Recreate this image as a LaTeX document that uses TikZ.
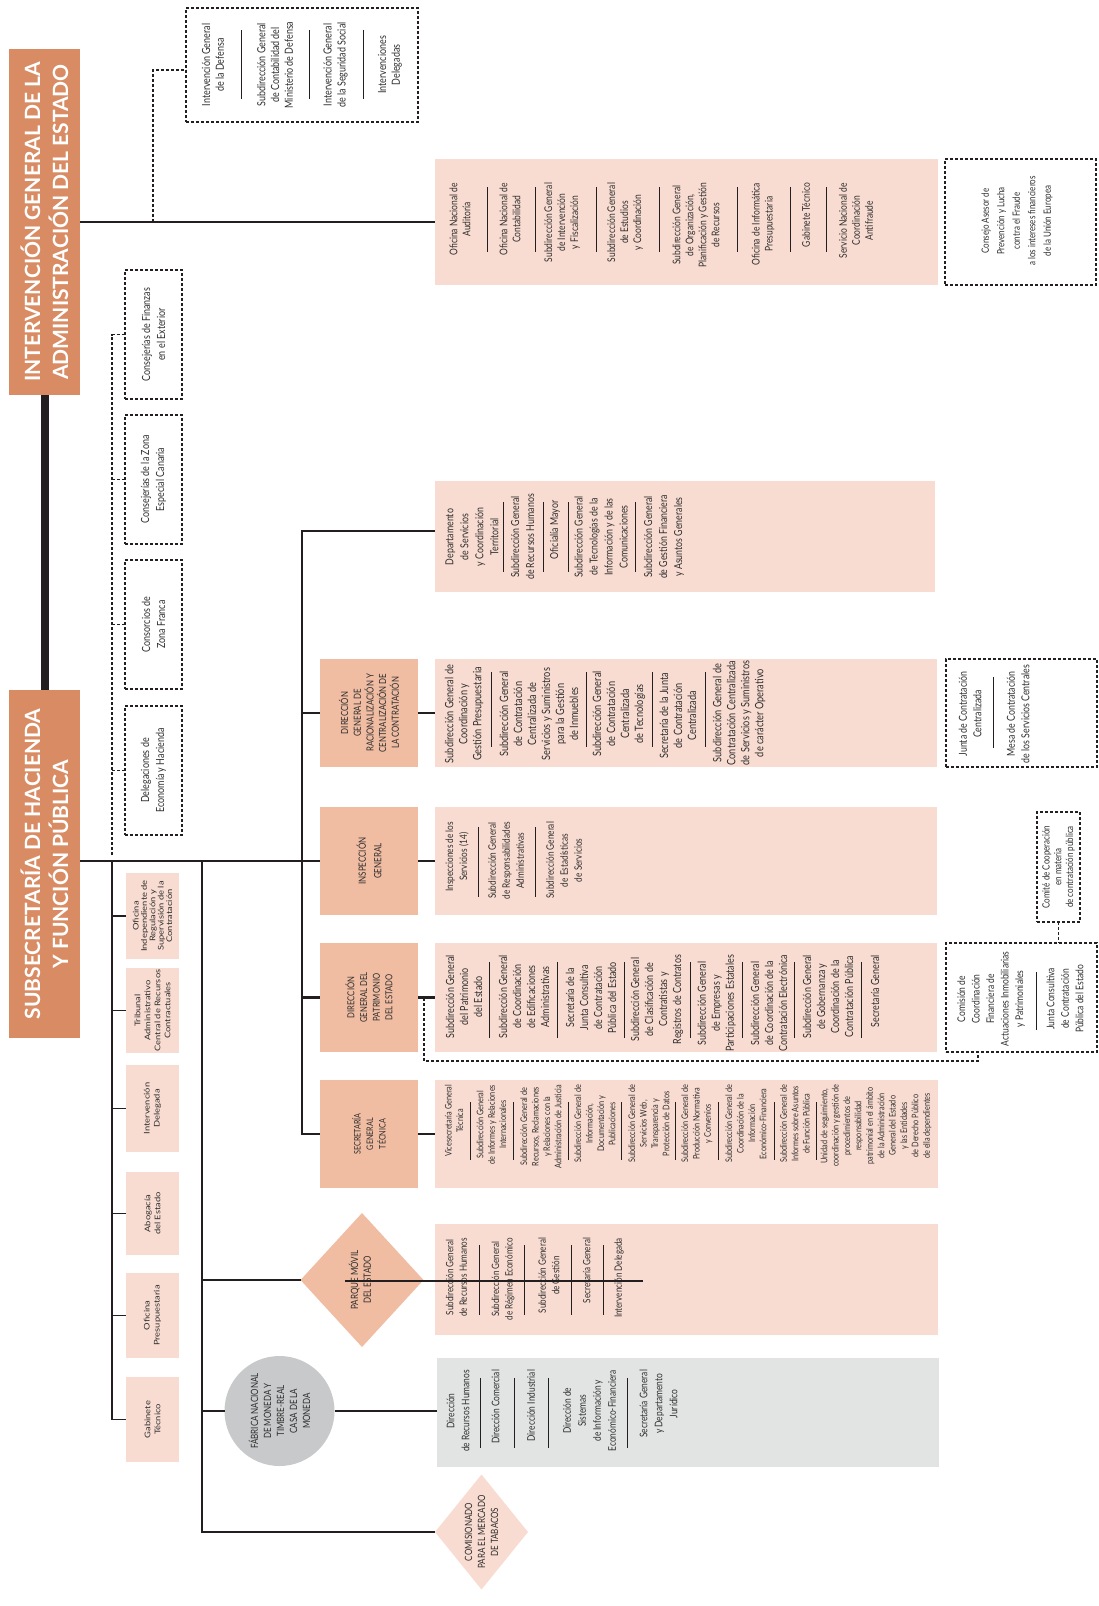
\documentclass[tikz,border=0pt]{standalone}
\usepackage{fontspec}
\setmainfont{Lato}
\newfontfamily\fA[FakeStretch=0.8]{Lato}
\newfontfamily\fW[FakeStretch=1.2]{Lato}
\usetikzlibrary{shapes.geometric}
\definecolor{cT}{HTML}{D98C63}
\definecolor{cL}{HTML}{F0BCA2}
\definecolor{cP}{HTML}{F9DCD1}
\definecolor{cG}{HTML}{C7C9CA}
\definecolor{cGl}{HTML}{E2E4E4}
\definecolor{ink}{HTML}{231F20}
\definecolor{txt}{HTML}{2E2E2E}
\begin{document}
\begin{tikzpicture}[x=1pt,y=-1pt,
  rb/.style={inner sep=0pt, outer sep=0pt, anchor=north west},
  db/.style={rb, draw=ink, line width=1.4pt, dash pattern=on 3pt off 2pt},
  thk/.style={draw=ink, line width=2.8pt},
  mid/.style={draw=ink, line width=1.8pt},
  thn/.style={draw=ink, line width=1.5pt},
  dsh/.style={draw=ink, line width=1.4pt, dash pattern=on 3pt off 2pt},
  sepl/.style={draw=ink, line width=0.8pt},
  lt/.style 2 args={rotate=90, align=center, inner sep=0pt, outer sep=0pt, text=txt, font=\fA\fontsize{#1}{#2}\selectfont},
  sm/.style 2 args={rotate=90, align=center, inner sep=0pt, outer sep=0pt, text=txt, font=\fW\fontsize{#1}{#2}\selectfont},
  ttl/.style={rotate=90, align=center, inner sep=0pt, text=white, font=\bfseries\fontsize{21}{28}\selectfont},
  tIG/.style={lt={10.6}{13}, anchor=east},
  tDF/.style={lt={11.2}{13.8}},
  tCJ/.style={lt={11.2}{15}},
  tDP/.style={lt={11}{15}},
  tDR/.style={lt={11.5}{14}},
  tJN/.style={lt={11}{14.5}},
  tIN/.style={lt={10.3}{14}, anchor=east},
  tPA/.style={lt={11.2}{14}, anchor=east},
  tCM/.style={lt={10.6}{14.5}},
  tSG/.style={lt={9.1}{11.4}, anchor=east},
  tPM/.style={lt={10.1}{13.5}, anchor=east},
  tFN/.style={lt={10.5}{15}, anchor=east},
]
\useasboundingbox (0,0) rectangle (1099,1606);

% ---------- boxes ----------
\node[rb, fill=cT, minimum width=71pt, minimum height=346pt] (igaeT) at (9,49) {};
\node[rb, fill=cT, minimum width=71pt, minimum height=348pt] (subT) at (9,690) {};
\node[db, minimum width=232pt, minimum height=114pt] (defB) at (186,8) {};
\node[rb, fill=cP, minimum width=503pt, minimum height=126pt] (igaeL) at (435,159) {};
\node[db, minimum width=151pt, minimum height=126pt] (consB) at (945,159) {};
\node[db, minimum width=57pt, minimum height=129pt] (cj1) at (125,270) {};
\node[db, minimum width=57pt, minimum height=129pt] (cj2) at (125,415) {};
\node[db, minimum width=57pt, minimum height=129pt] (cj3) at (125,560) {};
\node[db, minimum width=57pt, minimum height=129pt] (cj4) at (125,706) {};
\node[rb, fill=cP, minimum width=500pt, minimum height=111pt] (depL) at (435,481) {};
\node[rb, fill=cL, minimum width=98pt, minimum height=108pt] (dgrB) at (320,659) {};
\node[rb, fill=cP, minimum width=502pt, minimum height=108pt] (dgrL) at (435,659) {};
\node[db, minimum width=151pt, minimum height=108pt] (junB) at (946,659) {};
\node[rb, fill=cL, minimum width=98pt, minimum height=108pt] (inspB) at (320,807) {};
\node[rb, fill=cP, minimum width=502pt, minimum height=108pt] (inspL) at (435,807) {};
\node[db, minimum width=43pt, minimum height=110pt] (comiB) at (1037,812) {};
\node[rb, fill=cL, minimum width=98pt, minimum height=109pt] (dgpB) at (320,943) {};
\node[rb, fill=cP, minimum width=502pt, minimum height=109pt] (dgpL) at (435,943) {};
\node[db, minimum width=151pt, minimum height=109pt] (comB) at (946,943) {};
\node[rb, fill=cL, minimum width=98pt, minimum height=108pt] (sgtB) at (320,1080) {};
\node[rb, fill=cP, minimum width=503pt, minimum height=108pt] (sgtL) at (435,1080) {};
\node[diamond, fill=cL, inner sep=0pt, outer sep=0pt, minimum width=123pt, minimum height=134pt] (pmD) at (362,1280) {};
\node[rb, fill=cP, minimum width=503pt, minimum height=111pt] (pmL) at (435,1224) {};
\node[circle, fill=cG, inner sep=0pt, outer sep=0pt, minimum size=110pt] (fnC) at (279.5,1411) {};
\node[rb, fill=cGl, minimum width=502pt, minimum height=109pt] (fnL) at (437,1358) {};
\node[diamond, fill=cP, inner sep=0pt, outer sep=0pt, minimum width=93pt, minimum height=115pt] (cmD) at (481.5,1532) {};
\node[rb, fill=cP, minimum width=53pt, minimum height=86pt] (s1) at (126,873) {};
\node[rb, fill=cP, minimum width=53pt, minimum height=85pt] (s2) at (126,968) {};
\node[rb, fill=cP, minimum width=53pt, minimum height=87pt] (s3) at (126,1065) {};
\node[rb, fill=cP, minimum width=53pt, minimum height=83pt] (s4) at (126,1172) {};
\node[rb, fill=cP, minimum width=53pt, minimum height=85pt] (s5) at (126,1273) {};
\node[rb, fill=cP, minimum width=53pt, minimum height=85pt] (s6) at (126,1377) {};

% ---------- connectors ----------
\draw[ink, line width=8pt] (igaeT.south) -- (subT.north);
\draw[mid] (igaeT.east) -- (igaeT.east -| igaeL.west);
\coordinate (dj) at (153,222);
\draw[dsh] (dj) |- ([yshift=-5pt]defB.west);
\draw[thk] (subT.east |- inspB.west) -- (inspB.west);
\coordinate (jA) at (302,531);
\coordinate (jB) at (302,1134);
\draw[thk] (jA -| depL.west) -- (jA) -- (jB) -- (jB -| sgtB.west);
\draw[thk] (jA |- dgrB.west) -- (dgrB.west);
\draw[thk] (jA |- dgpB.west) -- (dgpB.west);
\draw[thk] (dgrB.east) -- (dgrB.east -| dgrL.west);
\draw[thk] (inspB.east) -- (inspB.east -| inspL.west);
\draw[thk] (dgpB.east) -- (dgpB.east -| dgpL.west);
\draw[thk] (sgtB.east) -- (sgtB.east -| sgtL.west);
\coordinate (kA) at (202,861);
\coordinate (kB) at (202,1532);
\draw[thk] (kA) -- (kB) -- (cmD.west);
\draw[thk] (kA |- pmD.west) -- (pmD.west);
\draw[thk] (kA |- fnC.west) -- (fnC.west);
\draw[thk] (fnC.east) -- (fnC.east -| fnL.west);
\coordinate (lA) at (112,861);
\draw[thn] (lA) -- (lA |- s6.west) -- (s6.west);
\foreach \b in {s1,s2,s3,s4,s5} \draw[thn] (lA |- \b.west) -- (\b.west);
\coordinate (dA) at (112,855);
\draw[dsh] (dA) -- (dA |- cj1.west) -- (cj1.west);
\foreach \b in {cj2,cj3,cj4} \draw[dsh] (dA |- \b.west) -- (\b.west);
\coordinate (pd1) at (424,998);
\coordinate (pd2) at (424,1061);
\coordinate (pd3) at (978,1061);
\draw[dsh] (pd1) -- (pd2) -- (pd3) -- (pd3 |- comB.south);
\draw[dsh] (comiB.south) -- (comiB.south |- comB.north);

% ---------- titles ----------
\node[ttl] (igaeTx) at (igaeT.center) {INTERVENCIÓN GENERAL DE LA\\ADMINISTRACIÓN DEL ESTADO};
\node[ttl] (subTx) at (subT.center) {SUBSECRETARÍA DE HACIENDA\\Y FUNCIÓN PÚBLICA};
\node[lt={9.8}{12.7}] (dgrT) at (dgrB.center) {DIRECCIÓN\\GENERAL DE\\RACIONALIZACIÓN Y\\CENTRALIZACIÓN DE\\LA CONTRATACIÓN};
\node[lt={10}{15.5}] (inspT) at (inspB.center) {INSPECCIÓN\\GENERAL};
\node[lt={9.6}{12.7}] (dgpT) at (dgpB.center) {DIRECCIÓN\\GENERAL DEL\\PATRIMONIO\\DEL ESTADO};
\node[lt={9}{12.4}] (sgtT) at (sgtB.center) {SECRETARÍA\\GENERAL\\TÉCNICA};
\node[lt={10}{12.8}] (pmT) at (360,1280) {PARQUE MÓVIL\\DEL ESTADO};
\node[lt={10}{13}] (fnT) at (fnC.center) {FÁBRICA NACIONAL\\DE MONEDA Y\\TIMBRE-REAL\\CASA DE LA\\MONEDA};
\node[lt={10}{13}] (cmT) at (cmD.center) {COMISIONADO\\PARA EL MERCADO\\DE TABACOS};

% ---------- top dashed box ----------
\node[tDF] (df1) at (213,65) {Intervención General\\de la Defensa};
\node[tDF] (df2) at (275,65) {Subdirección General\\de Contabilidad del\\Ministerio de Defensa};
\node[tDF] (df3) at (335.5,65) {Intervención General\\de la Seguridad Social};
\node[tDF] (df4) at (390,65) {Intervenciones\\Delegadas};
\foreach \x in {241,309,363} \draw[sepl] (\x,30) -- (\x,99);

% ---------- IGAE list ----------
\node[tIG] (ig1) at (460,183) {Oficina Nacional de\\Auditoría};
\node[tIG] (ig2) at (510,183) {Oficina Nacional de\\Contabilidad};
\node[tIG] (ig3) at (562,183) {Subdirección General\\de Intervención\\y Fiscalización};
\node[tIG] (ig4) at (625,183) {Subdirección General\\de Estudios\\y Coordinación};
\node[tIG] (ig5) at (696,183) {Subdirección General\\de Organización,\\Planificación y Gestión\\de Recursos};
\node[tIG] (ig6) at (763,183) {Oficina de Informática\\Presupuestaria};
\node[tIG] (ig7) at (806,183) {Gabinete Técnico};
\node[tIG] (ig8) at (856,183) {Servicio Nacional de\\Coordinación\\Antifraude};
\foreach \x in {487,535,596,659,737,790,826} \draw[sepl] (\x,187) -- (\x,252);
\node[lt={10}{15.5}] (cons) at (1017,221) {Consejo Asesor de\\Prevención y Lucha\\contra el Fraude\\a los intereses financieros\\de la Unión Europea};

% ---------- Consejerías ----------
\node[tCJ] (cjt1) at (cj1.center) {Consejerías de Finanzas\\en el Exterior};
\node[tCJ] (cjt2) at (cj2.center) {Consejerías de la Zona\\Especial Canaria};
\node[tCJ] (cjt3) at (cj3.center) {Consorcios de\\Zona Franca};
\node[tCJ] (cjt4) at (cj4.center) {Delegaciones de\\Economía y Hacienda};

% ---------- Departamento list ----------
\node[tDP] (dp1) at (472,537) {Departamento\\de Servicios\\y Coordinación\\Territorial};
\node[tDP] (dp2) at (522.5,537) {Subdirección General\\de Recursos Humanos};
\node[tDP] (dp3) at (555,530) {Oficialía Mayor};
\node[tDP] (dp4) at (601,537) {Subdirección General\\de Tecnologías de la\\Información y de las\\Comunicaciones};
\node[tDP] (dp5) at (664,537) {Subdirección General\\de Gestión Financiera\\y Asuntos Generales};
\foreach \x in {503.3,543.3,568.3,635} \draw[sepl] (\x,502) -- (\x,572);

% ---------- DG Racionalización list ----------
\node[tDR] (dr1) at (464,714) {Subdirección General de\\Coordinación y\\Gestión Presupuestaria};
\node[tDR] (dr2) at (539,714) {Subdirección General\\de Contratación\\Centralizada de\\Servicios y Suministros\\para la Gestión\\de Inmuebles};
\node[tDR] (dr3) at (619,714) {Subdirección General\\de Contratación\\Centralizada\\de Tecnologías};
\node[tDR, anchor=east] (dr4) at (678,673) {Secretaría de la Junta\\de Contratación\\Centralizada};
\node[tDR] (dr5) at (739,713) {Subdirección General de\\Contratación Centralizada\\de Servicios y Suministros\\de carácter Operativo};
\foreach \x in {491,586,652,705} \draw[sepl] (\x,672) -- (\x,747);
\node[tJN] (jn1) at (970,714) {Junta de Contratación\\Centralizada};
\node[tJN] (jn2) at (1018,714) {Mesa de Contratación\\de los Servicios Centrales};
\draw[sepl] (993,677) -- (993,748);

% ---------- Inspección list ----------
\node[tIN] (in1) at (457,822) {Inspecciones de los\\Servicios (14)};
\node[tIN] (in2) at (506,822) {Subdirección General\\de Responsabilidades\\Administrativas};
\node[tIN] (in3) at (564,822) {Subdirección General\\de Estadísticas\\de Servicios};
\foreach \x in {478.4,535.5} \draw[sepl] (\x,827) -- (\x,897);
\node[lt={10}{11.8}] (comi) at (comiB.center) {Comité de Cooperación\\en materia\\de contratación pública};

% ---------- DG Patrimonio list ----------
\node[tPA] (pa1) at (464,955) {Subdirección General\\del Patrimonio\\del Estado};
\node[tPA] (pa2) at (524,955) {Subdirección General\\de Coordinación\\de Edificaciones\\Administrativas};
\node[tPA] (pa3) at (591,962) {Secretaría de la\\Junta Consultiva\\de Contratación\\Pública del Estado};
\node[tPA] (pa4) at (657,955) {Subdirección General\\de Clasificación de\\Contratistas y\\Registros de Contratos};
\node[tPA] (pa5) at (716.6,955) {Subdirección General\\de Empresas y\\Participaciones Estatales};
\node[tPA] (pa6) at (769,955) {Subdirección General\\de Coordinación de la\\Contratación Electrónica};
\node[tPA] (pa7) at (828,955) {Subdirección General\\de Gobernanza y\\Coordinación de la\\Contratación Pública};
\node[tPA] (pa8) at (875,955) {Secretaría General};
\foreach \x in {489.6,557.4,624.7,690,742.4,794.4,861.7} \draw[sepl] (\x,962) -- (\x,1038);
\node[tCM] (cm1) at (991,999) {Comisión de\\Coordinación\\Financiera de\\Actuaciones Inmobiliarias\\y Patrimoniales};
\node[tCM] (cm2) at (1065,999) {Junta Consultiva\\de Contratación\\Pública del Estado};
\draw[sepl] (1036.5,972) -- (1036.5,1030);

% ---------- SGT list ----------
\node[tSG] (sg1) at (454,1085) {Vicesecretaría General\\Técnica};
\node[tSG] (sg2) at (491.5,1085) {Subdirección General\\de Informes y Relaciones\\Internacionales};
\node[tSG] (sg3) at (541,1085) {Subdirección General de\\Recursos, Reclamaciones\\y Relaciones con la\\Administración de Justicia};
\node[tSG] (sg4) at (595,1085) {Subdirección General de\\Información,\\Documentación y\\Publicaciones};
\node[tSG] (sg5) at (649,1085) {Subdirección General de\\Servicios Web,\\Transparencia y\\Protección de Datos};
\node[tSG] (sg6) at (697,1085) {Subdirección General de\\Producción Normativa\\y Convenios};
\node[tSG] (sg7) at (746,1085) {Subdirección General de\\Coordinación de la\\Información\\Económico-Financiera};
\node[tSG] (sg8) at (795,1085) {Subdirección General de\\Informes sobre Asuntos\\de Función Pública};
\node[tSG] (sg9) at (876,1085) {Unidad de seguimiento,\\coordinación y gestión de\\procedimientos de\\responsabilidad\\patrimonial en el ámbito\\de la Administración\\General del Estado\\y las Entidades\\de Derecho Público\\de ella dependientes};
\foreach \x in {470.8,513.5,568.7,621.3,675.2,718.7,774.7,816} \draw[sepl] (\x,1102) -- (\x,1160);

% ---------- Parque Móvil list ----------
\node[tPM] (pm1) at (456.5,1238) {Subdirección General\\de Recursos Humanos};
\node[tPM] (pm2) at (503,1238) {Subdirección General\\de Régimen Económico};
\node[tPM] (pm3) at (549,1238) {Subdirección General\\de Gestión};
\node[tPM] (pm4) at (586.7,1238) {Secretaría General};
\node[tPM] (pm5) at (619,1238) {Intervención Delegada};
\foreach \x in {479.4,524.8,571,603.6} \draw[sepl] (\x,1245) -- (\x,1315);
\coordinate (pmA) at (345,1281);
\coordinate (pmB) at (643,1281);
\draw[thn] (pmA) -- (pmB);

% ---------- FNMT list ----------
\node[tFN] (fn1) at (458,1370) {Dirección\\de Recursos Humanos};
\node[tFN] (fn2) at (495.5,1370) {Dirección Comercial};
\node[tFN] (fn3) at (531,1370) {Dirección Industrial};
\node[tFN] (fn4) at (589.5,1370) {Dirección de\\Sistemas\\de Información y\\Económico-Financiera};
\node[tFN] (fn5) at (658.6,1370) {Secretaría General\\y Departamento\\Jurídico};
\foreach \x in {480.4,514.4,548.8,627.6} \draw[sepl] (\x,1378) -- (\x,1448);

% ---------- small left boxes ----------
\node[sm={7.8}{8.4}] (st1) at (s1.center) {Oficina\\Independiente de\\Regulación y\\Supervisión de la\\Contratación};
\node[sm={7.8}{10}] (st2) at (s2.center) {Tribunal\\Administrativo\\Central de Recursos\\Contractuales};
\node[sm={7.8}{10}] (st3) at (s3.center) {Intervención\\Delegada};
\node[sm={7.8}{10}] (st4) at (s4.center) {Abogacía\\del Estado};
\node[sm={7.8}{10}] (st5) at (s5.center) {Oficina\\Presupuestaria};
\node[sm={7.8}{10}] (st6) at (s6.center) {Gabinete\\Técnico};
\end{tikzpicture}
\end{document}
